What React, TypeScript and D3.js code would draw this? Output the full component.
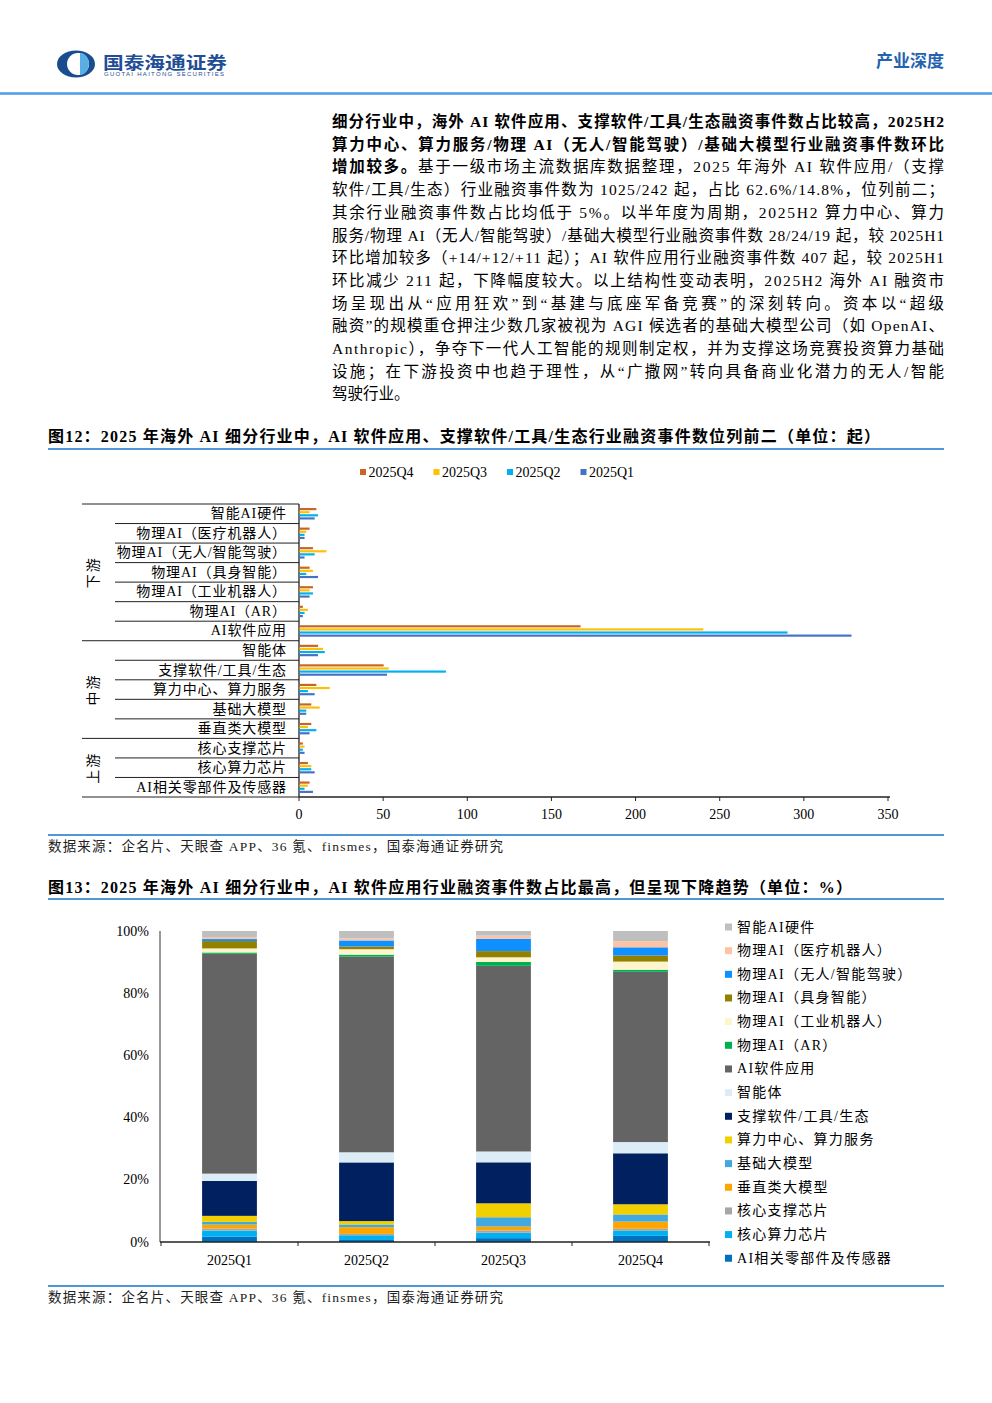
import React from 'react';
import * as d3 from 'd3';

// ---------- data ----------
const categories = [
  '智能AI硬件',
  '物理AI（医疗机器人）',
  '物理AI（无人/智能驾驶）',
  '物理AI（具身智能）',
  '物理AI（工业机器人）',
  '物理AI（AR）',
  'AI软件应用',
  '智能体',
  '支撑软件/工具/生态',
  '算力中心、算力服务',
  '基础大模型',
  '垂直类大模型',
  '核心支撑芯片',
  '核心算力芯片',
  'AI相关零部件及传感器',
];
const groupNames = ['下游', '中游', '上游'];
const groupSizes = [7, 5, 3];

const seriesNames = ['2025Q4', '2025Q3', '2025Q2', '2025Q1'];
const q4 = [10, 6, 8, 6, 8, 2, 167, 11, 50, 10, 7, 7, 2, 5, 6];
const q3 = [6, 4, 16, 8, 6, 5, 240, 14, 53, 18, 12, 5, 3, 7, 5];
const q2 = [11, 3, 9, 4, 8, 3, 290, 15, 87, 5, 4, 10, 2, 7, 3];
const q1 = [9, 3, 3, 11, 6, 2, 328, 11, 52, 9, 4, 6, 3, 9, 8];
const seriesColors = ['#C9651F', '#FFC000', '#00B0F0', '#4472C4'];
const countTicks = [0, 50, 100, 150, 200, 250, 300, 350];

const quarterOrder = ['2025Q1', '2025Q2', '2025Q3', '2025Q4'];
const pctTicks = [0, 0.2, 0.4, 0.6, 0.8, 1];
const categoryColors = [
  '#BFBFBF', '#FFC3A3', '#1090FF', '#948000', '#FFF5CC', '#00B050', '#646464',
  '#DDEDF8', '#002060', '#F2D000', '#42A8E0', '#FFA500', '#A6A6A6', '#00B0F0', '#0070C0',
];

const paragraph: [string, boolean][][] = [
  [['细分行业中，海外 AI 软件应用、支撑软件/工具/生态融资事件数占比较高，2025H2', true]],
  [['算力中心、算力服务/物理 AI（无人/智能驾驶）/基础大模型行业融资事件数环比', true]],
  [['增加较多。', true], ['基于一级市场主流数据库数据整理，2025 年海外 AI 软件应用/（支撑', false]],
  [['软件/工具/生态）行业融资事件数为 1025/242 起，占比 62.6%/14.8%，位列前二；', false]],
  [['其余行业融资事件数占比均低于 5%。以半年度为周期，2025H2 算力中心、算力', false]],
  [['服务/物理 AI（无人/智能驾驶）/基础大模型行业融资事件数 28/24/19 起，较 2025H1', false]],
  [['环比增加较多（+14/+12/+11 起）；AI 软件应用行业融资事件数 407 起，较 2025H1', false]],
  [['环比减少 211 起，下降幅度较大。以上结构性变动表明，2025H2 海外 AI 融资市', false]],
  [['场呈现出从“应用狂欢”到“基建与底座军备竞赛”的深刻转向。资本以“超级', false]],
  [['融资”的规模重仓押注少数几家被视为 AGI 候选者的基础大模型公司（如 OpenAI、', false]],
  [['Anthropic），争夺下一代人工智能的规则制定权，并为支撑这场竞赛投资算力基础', false]],
  [['设施；在下游投资中也趋于理性，从“广撒网”转向具备商业化潜力的无人/智能', false]],
  [['驾驶行业。', false]],
];

const FONT = "'Liberation Serif','Times New Roman','Noto Sans CJK SC',serif";
const BLUE = '#4F97D8';

export default function App() {
  // ----- chart 12 -----
  const y12 = d3.scaleBand<string>().domain(categories).range([504, 797]);
  const inner = d3
    .scaleBand<string>()
    .domain(seriesNames)
    .range([0, y12.bandwidth()])
    .paddingInner(0.3)
    .paddingOuter(1.3);
  const x12 = d3.scaleLinear().domain([0, 350]).range([299, 888]);
  const series12 = [q4, q3, q2, q1];

  const boundaries = categories.map((c) => y12(c) as number).concat([797]);
  const groupStarts: number[] = [];
  let acc = 0;
  groupSizes.forEach((s) => {
    groupStarts.push(acc);
    acc += s;
  });
  const groupEdgeIdx = new Set([...groupStarts, categories.length]);

  // ----- chart 13 -----
  const quarterValues: Record<string, number[]> = {
    '2025Q1': q1,
    '2025Q2': q2,
    '2025Q3': q3,
    '2025Q4': q4,
  };
  const rows = quarterOrder.map((q) => {
    const r: any = { quarter: q };
    categories.forEach((c, i) => (r[c] = quarterValues[q][i]));
    return r;
  });
  const stackKeys = categories.slice().reverse();
  const stacked = d3.stack<any>().keys(stackKeys).offset(d3.stackOffsetExpand)(rows);
  const x13 = d3
    .scaleBand<string>()
    .domain(quarterOrder)
    .range([161, 709])
    .paddingInner(0.6)
    .paddingOuter(0.3);
  const y13 = d3.scaleLinear().domain([0, 1]).range([1242, 931]);
  const color13 = d3.scaleOrdinal<string, string>().domain(categories).range(categoryColors);
  const step13 = x13.step();
  const half13 = (step13 - x13.bandwidth()) / 2;
  const tick13 = quarterOrder.map((q) => (x13(q) as number) - half13).concat([709]);

  return (
    <svg
      width={992}
      height={1403}
      style={{ position: 'absolute', left: 0, top: 0, background: '#fff' }}
      fontFamily={FONT}
    >
      <rect x={0} y={0} width={992} height={1403} fill="#fff" />
      {/* ---------- header ---------- */}
      <g>
        <ellipse cx={76} cy={64} rx={19} ry={13.5} fill="#1A4D8E" />
        <ellipse cx={78} cy={64} rx={11} ry={11} fill="#fff" />
        <path d="M80,53 A9,11 0 0 1 80,75 Z" fill="#5AAEE6" />
        <rect x={77.5} y={53} width={2.5} height={22} fill="#fff" />
        <text
          x={103}
          y={61}
          fontSize={17}
          fontWeight="bold"
          fill="#1F4E96"
          dominantBaseline="central"
          fontFamily="'Noto Sans CJK SC',sans-serif"
          textLength={124}
          lengthAdjust="spacingAndGlyphs"
        >
          国泰海通证券
        </text>
        <text
          x={104}
          y={74}
          fontSize={6}
          fill="#1F4E96"
          dominantBaseline="central"
          fontFamily="'Liberation Sans',Arial,sans-serif"
          textLength={120}
        >
          GUOTAI HAITONG SECURITIES
        </text>
        <text
          x={944}
          y={59}
          fontSize={17}
          fontWeight="bold"
          fill="#2462B0"
          textAnchor="end"
          dominantBaseline="central"
          fontFamily="'Noto Sans CJK SC',sans-serif"
        >
          产业深度
        </text>
        <line x1={0} x2={992} y1={93.5} y2={93.5} stroke="#4A9BE8" strokeWidth={2.5} />
      </g>

      {/* ---------- paragraph ---------- */}
      <g fontSize={15.5} fill="#000">
        {paragraph.map((segs, i) => (
          <text
            key={i}
            x={332}
            y={121 + i * 22.7}
            dominantBaseline="central"
            textLength={i < paragraph.length - 1 ? 612 : undefined}
            lengthAdjust="spacing"
          >
            {segs.map(([t, b], j) => (
              <tspan key={j} fontWeight={b ? 'bold' : 'normal'}>
                {t}
              </tspan>
            ))}
          </text>
        ))}
      </g>

      {/* ---------- chart 12 title ---------- */}
      <text
        x={48}
        y={436}
        fontSize={16}
        fontWeight="bold"
        dominantBaseline="central"
        textLength={832}
        lengthAdjust="spacing"
      >
        图12：2025 年海外 AI 细分行业中，AI 软件应用、支撑软件/工具/生态行业融资事件数位列前二（单位：起）
      </text>
      <line x1={48} x2={944} y1={449} y2={449} stroke={BLUE} strokeWidth={1.8} />

      {/* legend 12 */}
      <g fontSize={14}>
        {seriesNames.map((s, i) => (
          <g key={s} transform={`translate(360,472) translate(${i * 73.5},0)`}>
            <rect x={0} y={-3} width={6} height={6} fill={seriesColors[i]} />
            <text x={8.5} y={0} dominantBaseline="central">
              {s}
            </text>
          </g>
        ))}
      </g>

      {/* category frame lines */}
      <g stroke="#222" strokeWidth={1}>
        {boundaries.map((b, i) => (
          <line
            key={i}
            x1={groupEdgeIdx.has(i) ? 82 : 115}
            x2={299}
            y1={b}
            y2={b}
          />
        ))}
        <line x1={299} x2={299} y1={504} y2={797} strokeWidth={1.3} />
      </g>
      {/* group labels */}
      <g fontSize={14}>
        {groupNames.map((g, i) => {
          const top = boundaries[groupStarts[i]];
          const bot = boundaries[groupStarts[i] + groupSizes[i]];
          const cy = (top + bot) / 2;
          return (
            <text
              key={g}
              transform={`translate(93,${cy}) rotate(-90)`}
              textAnchor="middle"
              dominantBaseline="central"
              letterSpacing={2}
            >
              {g}
            </text>
          );
        })}
      </g>
      {/* category labels */}
      <g fontSize={14}>
        {categories.map((c) => (
          <text
            key={c}
            x={287}
            y={(y12(c) as number) + y12.bandwidth() / 2}
            textAnchor="end"
            dominantBaseline="central"
            letterSpacing={0.9}
          >
            {c}
          </text>
        ))}
      </g>
      {/* bars */}
      <g>
        {series12.map((vals, si) =>
          vals.map((v, ci) => (
            <rect
              key={`${si}-${ci}`}
              x={x12(0) + 0.5}
              y={(y12(categories[ci]) as number) + (inner(seriesNames[si]) as number)}
              width={Math.max(0, x12(v) - x12(0))}
              height={inner.bandwidth()}
              fill={seriesColors[si]}
            />
          ))
        )}
      </g>
      {/* x axis 12 */}
      <g>
        <line x1={299} x2={890} y1={797} y2={797} stroke="#222" strokeWidth={1.3} />
        {countTicks.map((t) => (
          <g key={t}>
            <line x1={x12(t)} x2={x12(t)} y1={797} y2={801} stroke="#222" />
            <text x={x12(t)} y={814} fontSize={14} textAnchor="middle" dominantBaseline="central">
              {t}
            </text>
          </g>
        ))}
      </g>

      <line x1={48} x2={944} y1={835} y2={835} stroke={BLUE} strokeWidth={1.8} />
      <text x={48} y={846} fontSize={13.5} fill="#222" dominantBaseline="central" textLength={455} lengthAdjust="spacing">
        数据来源：企名片、天眼查 APP、36 氪、finsmes，国泰海通证券研究
      </text>

      {/* ---------- chart 13 ---------- */}
      <text
        x={48}
        y={887}
        fontSize={16}
        fontWeight="bold"
        dominantBaseline="central"
        textLength={804}
        lengthAdjust="spacing"
      >
        图13：2025 年海外 AI 细分行业中，AI 软件应用行业融资事件数占比最高，但呈现下降趋势（单位：%）
      </text>
      <line x1={48} x2={944} y1={899} y2={899} stroke={BLUE} strokeWidth={1.8} />

      {/* y axis 13 */}
      <g fontSize={14}>
        {pctTicks.map((t) => (
          <text key={t} x={149} y={y13(t)} textAnchor="end" dominantBaseline="central">
            {`${Math.round(t * 100)}%`}
          </text>
        ))}
        <line x1={160} x2={160} y1={931} y2={1242} stroke="#333" strokeWidth={1} />
      </g>
      {/* stacked bars */}
      <g>
        {stacked.map((layer) =>
          layer.map((d, i) => (
            <rect
              key={`${layer.key}-${i}`}
              x={x13(quarterOrder[i]) as number}
              y={y13(d[1])}
              width={x13.bandwidth()}
              height={Math.max(0, y13(d[0]) - y13(d[1]))}
              fill={color13(layer.key)}
            />
          ))
        )}
      </g>
      {/* x axis 13 */}
      <g>
        <line x1={160} x2={710} y1={1242} y2={1242} stroke="#222" strokeWidth={1.3} />
        {tick13.map((t, i) => (
          <line key={i} x1={t} x2={t} y1={1242} y2={1246} stroke="#222" />
        ))}
        {quarterOrder.map((q) => (
          <text
            key={q}
            x={(x13(q) as number) + x13.bandwidth() / 2}
            y={1260}
            fontSize={14}
            textAnchor="middle"
            dominantBaseline="central"
          >
            {q}
          </text>
        ))}
      </g>
      {/* legend 13 */}
      <g fontSize={14}>
        {categories.map((c, i) => (
          <g key={c} transform={`translate(725,${927 + i * 23.66})`}>
            <rect x={0} y={-3.5} width={7} height={7} fill={color13(c)} />
            <text x={12} y={0} dominantBaseline="central" letterSpacing={1.3}>
              {c}
            </text>
          </g>
        ))}
      </g>

      <line x1={48} x2={944} y1={1286} y2={1286} stroke={BLUE} strokeWidth={1.8} />
      <text x={48} y={1297} fontSize={13.5} fill="#222" dominantBaseline="central" textLength={455} lengthAdjust="spacing">
        数据来源：企名片、天眼查 APP、36 氪、finsmes，国泰海通证券研究
      </text>
    </svg>
  );
}
